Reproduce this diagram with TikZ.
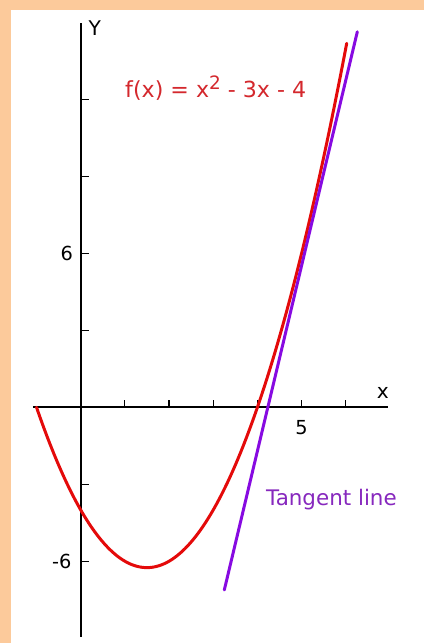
\documentclass[tikz,border=0pt]{standalone}
\usepackage{fontspec}
\setmainfont{DejaVu Sans}
\definecolor{peach}{RGB}{252,202,155}
\definecolor{curvered}{RGB}{228,10,10}
\definecolor{textred}{RGB}{212,40,45}
\definecolor{tanpurple}{RGB}{135,10,225}
\definecolor{textpurple}{RGB}{135,40,190}
\begin{document}
\begin{tikzpicture}[x=0.02cm,y=-0.02cm,
  axis/.style={line width=1.1pt,black},
  tickmark/.style={line width=0.7pt,black},
  ticklabel/.style={font=\fontsize{11}{13}\selectfont,inner sep=0pt},
  axislabel/.style={font=\fontsize{11.5}{13}\selectfont,inner sep=0pt},
  curve/.style={line width=1.7pt,curvered,line cap=round},
  tanline/.style={line width=1.7pt,tanpurple,line cap=round}]
\useasboundingbox (0,0) rectangle (424,643);
\fill[peach] (0,0) rectangle (424,643);
\fill[white] (11,10) rectangle (424,643);
\begin{scope}[shift={(1.614cm,-8.146cm)},x={(0.884cm,0)},y={(0,0.5134cm)}]
  % axes
  \coordinate (xl) at (-1.08,0);
  \coordinate (xr) at (6.96,0);
  \coordinate (yb) at (0,-8.95);
  \coordinate (yt) at (0,14.96);
  \draw[axis] (xl) -- (xr);
  \draw[axis] (yb) -- (yt);
  % ticks
  \foreach \i in {1,...,6} {
    \coordinate (xt\i) at (\i,0);
    \draw[tickmark] (xt\i) -- ++(0,0.28);
  }
  \foreach \j in {-6,-3,3,6,9,12} {
    \coordinate (yt\j) at (0,\j);
    \draw[tickmark] (yt\j) -- ++(0.18,0);
  }
  % labels
  \node[ticklabel,anchor=east] (l6) at (-0.17,6) {6};
  \node[ticklabel,anchor=east] (lm6) at (-0.2,-6) {-6};
  \node[ticklabel] (l5) at (5.0,-0.81) {5};
  \node[axislabel] (lx) at (6.84,0.56) {x};
  \node[axislabel] (ly) at (0.32,14.78) {Y};
  % parabola
  \draw[curve] plot[domain=-1:6.02,samples=120,smooth] (\x,{\x*\x-3*\x-4});
  % tangent line
  \coordinate (ta) at (3.25,-7.12);
  \coordinate (tb) at (6.26,14.63);
  \draw[tanline] (ta) -- (tb);
  \node[anchor=west,inner sep=0pt,text=textred,font=\fontsize{12.6}{14}\selectfont] (fl) at (1.0,12.44) {f(x) = x\raisebox{0.38em}{\fontsize{10.5}{12}\selectfont 2} - 3x - 4};
  \node[anchor=west,inner sep=0pt,text=textpurple,font=\fontsize{12.2}{14}\selectfont] (tl) at (4.19,-3.61) {Tangent line};
\end{scope}
\end{tikzpicture}
\end{document}
